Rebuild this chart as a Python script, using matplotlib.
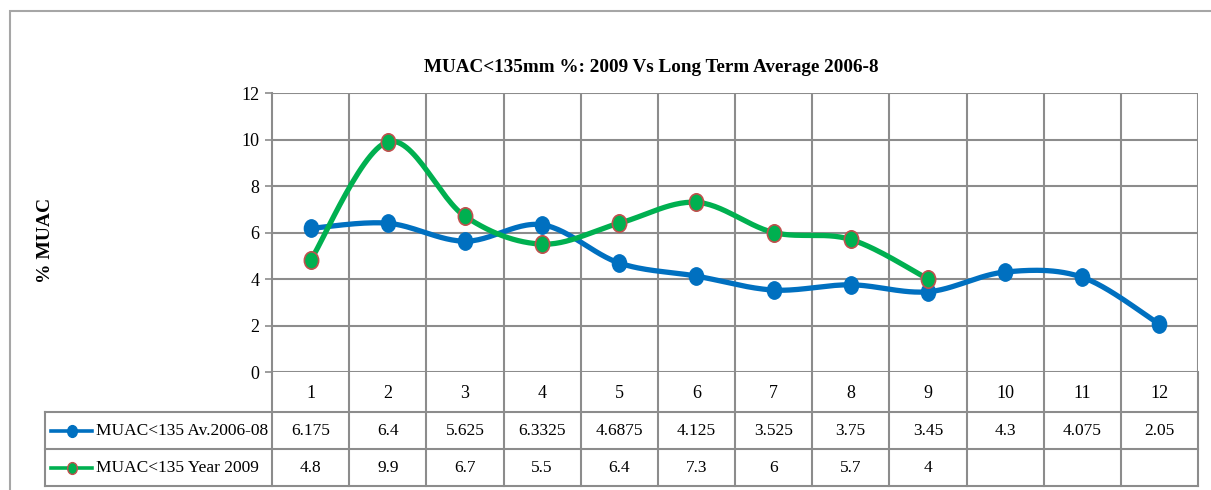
import numpy as np
import matplotlib
matplotlib.use("Agg")
import matplotlib.pyplot as plt
from matplotlib.transforms import blended_transform_factory
from matplotlib.lines import Line2D
from matplotlib.path import Path

# ---- data ----
months = [1, 2, 3, 4, 5, 6, 7, 8, 9, 10, 11, 12]
avg_2006_08 = [6.175, 6.4, 5.625, 6.3325, 4.6875, 4.125, 3.525, 3.75, 3.45, 4.3, 4.075, 2.05]
year_2009 = [4.8, 9.9, 6.7, 5.5, 6.4, 7.3, 6, 5.7, 4]
series_names = ["MUAC<135 Av.2006-08", "MUAC<135 Year 2009"]
title = "MUAC<135mm %: 2009 Vs Long Term Average 2006-8"
ylabel = "% MUAC"
yticks = [0, 2, 4, 6, 8, 10, 12]

plt.rcParams['font.family'] = ['Liberation Serif', 'DejaVu Serif']

W, H = 1211, 490
fig = plt.figure(figsize=(W / 100, H / 100), dpi=100)

def fx(px):
    return px / W

def fy(py):
    return 1 - py / H

BLUE = "#0070C0"
GREEN = "#00B050"
RED_EDGE = "#C0504D"
GRID = "#8c8c8c"

# vertical ellipse marker (Excel-like, slightly tall)
_c = Path.unit_circle()
ELLIPSE = Path(_c.vertices * np.array([0.82, 1.0]), _c.codes)

# outer chart border
fig.patches.append(plt.Rectangle((fx(9.5), fy(600)), fx(1300), fy(11.5) - fy(600),
                                 transform=fig.transFigure, fill=False,
                                 edgecolor="#a6a6a6", lw=1.5, clip_on=False))

L, R, T, B = 272, 1198, 93, 372
ax = fig.add_axes([fx(L), fy(B), fx(R) - fx(L), fy(T) - fy(B)])
ax.set_xlim(0.5, 12.5)
ax.set_ylim(0, 12)
ax.set_yticks(yticks)
ax.set_yticklabels([str(t) for t in yticks], fontsize=13)
ax.tick_params(axis='y', length=5, width=1.2, color=GRID, pad=4)
ax.set_xticks([])
for s in ax.spines.values():
    s.set_visible(False)
ax.spines['left'].set_visible(True)
ax.spines['left'].set_color(GRID)
ax.spines['left'].set_linewidth(1.5)
for t in yticks:
    ax.axhline(t, color=GRID, lw=1.5, zorder=1)
for k in range(1, 13):
    ax.axvline(k + 0.5, color=GRID, lw=1.5, zorder=1)


def smooth(xs, ys, n=30):
    xs = np.asarray(xs, float)
    ys = np.asarray(ys, float)
    P = np.column_stack([xs, ys])
    P = np.vstack([P[0], P, P[-1]])
    out = []
    for i in range(1, len(P) - 2):
        p0, p1, p2, p3 = P[i - 1], P[i], P[i + 1], P[i + 2]
        c1 = p1 + (p2 - p0) / 6
        c2 = p2 - (p3 - p1) / 6
        t = np.linspace(0, 1, n)[:, None]
        seg = ((1 - t) ** 3) * p1 + 3 * ((1 - t) ** 2) * t * c1 + 3 * (1 - t) * t ** 2 * c2 + t ** 3 * p2
        out.append(seg if i == 1 else seg[1:])
    seg = np.vstack(out)
    return seg[:, 0], seg[:, 1]

sx, sy = smooth(months, avg_2006_08)
ax.plot(sx, sy, color=BLUE, lw=3.8, zorder=3, solid_capstyle='round')
ax.plot(months, avg_2006_08, marker=ELLIPSE, ls='none', ms=12.5, color=BLUE, mec=BLUE, zorder=4)

m9 = months[:len(year_2009)]
sx, sy = smooth(m9, year_2009)
ax.plot(sx, sy, color=GREEN, lw=3.8, zorder=5, solid_capstyle='round')
ax.plot(m9, year_2009, marker=ELLIPSE, ls='none', ms=12.5, color=GREEN, mec=RED_EDGE, mew=1.2, zorder=6)

# title and y label
fig.text(fx(651), fy(68), title, ha='center', va='center', fontsize=13.8, fontweight='bold')
fig.text(fx(45), fy(240), ylabel, ha='center', va='center', rotation=90, fontsize=14, fontweight='bold')

# ---- data table ----
tax = fig.add_axes([fx(45), fy(487), fx(R) - fx(45), fy(B) - fy(487)])
tax.set_xlim(0, 1)
tax.set_ylim(487, B)  # pixel rows, inverted
tax.axis('off')
bt = blended_transform_factory(ax.transData, tax.transData)

# horizontal lines
tax.plot([0, 1], [412, 412], color=GRID, lw=1.5, clip_on=False)
tax.plot([0, 1], [449, 449], color=GRID, lw=1.5, clip_on=False)
tax.plot([0, 1], [486, 486], color=GRID, lw=1.5, clip_on=False)
# vertical lines
tax.plot([0, 0], [412, 486], color=GRID, lw=1.5, clip_on=False)
for k in range(0, 13):
    tax.plot([k + 0.5, k + 0.5], [B, 486], color=GRID, lw=1.5, clip_on=False, transform=bt)

for m in months:
    tax.text(m, (B + 412) / 2 + 1, str(m), transform=bt, ha='center', va='center', fontsize=13)
for m, v in zip(months, avg_2006_08):
    tax.text(m, 431, f"{v:g}", transform=bt, ha='center', va='center', fontsize=12.5)
for m, v in zip(months, year_2009):
    tax.text(m, 468, f"{v:g}", transform=bt, ha='center', va='center', fontsize=12.5)

# legend keys in the table
def px_to_tax(px):
    return (px - 45) / (R - 45)

for rowy, name, col, mec in [(431, series_names[0], BLUE, BLUE), (468, series_names[1], GREEN, RED_EDGE)]:
    tax.add_line(Line2D([px_to_tax(51), px_to_tax(92)], [rowy, rowy], color=col, lw=2.6, clip_on=False))
    tax.add_line(Line2D([px_to_tax(72)], [rowy], marker=ELLIPSE, ms=8.5, color=col, mec=mec, mew=1.0, clip_on=False))
    tax.text(px_to_tax(96), rowy, name, ha='left', va='center', fontsize=12.5)

fig.savefig("out.png", dpi=100)
